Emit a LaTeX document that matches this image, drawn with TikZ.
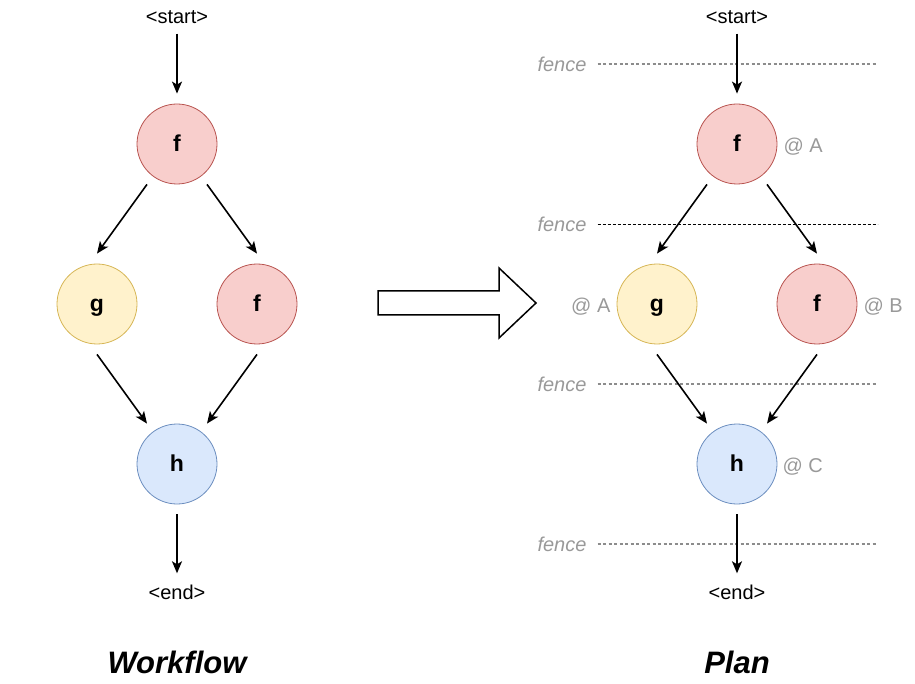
\documentclass[tikz,border=0pt]{standalone}
\usepackage{fontspec}
\setmainfont{Liberation Sans}
\usepackage{tikz}
\usetikzlibrary{arrows.meta, positioning, calc}
\definecolor{redfill}{HTML}{F8CECC}
\definecolor{redline}{HTML}{B85450}
\definecolor{yellowfill}{HTML}{FFF2CC}
\definecolor{yellowline}{HTML}{D6B656}
\definecolor{bluefill}{HTML}{DAE8FC}
\definecolor{blueline}{HTML}{6C8EBF}
\definecolor{fencegray}{HTML}{999999}
\definecolor{fenceline}{HTML}{8C8C8C}
\tikzstyle{task} = [circle, draw, line width=0.8pt, minimum size=80pt, inner sep=0pt, text height=15.5pt, text depth=0pt, font=\fontsize{23}{28}\selectfont\bfseries]
\tikzstyle{ftask} = [task, fill=redfill, draw=redline]
\tikzstyle{gtask} = [task, fill=yellowfill, draw=yellowline]
\tikzstyle{htask} = [task, fill=bluefill, draw=blueline]
\tikzstyle{inout} = [inner sep=0pt, text height=15pt, text depth=0pt, font=\fontsize{20}{24}\selectfont]
\tikzstyle{place} = [inout, text=fencegray]
\tikzstyle{fencelabel} = [place, font=\fontsize{20}{24}\selectfont\itshape]
\tikzstyle{title} = [inner sep=0pt, anchor=base, font=\fontsize{31}{36}\selectfont\bfseries\itshape]
\tikzstyle{arrow} = [-{Stealth[length=12pt, width=10pt, inset=3pt]}, line width=1.6pt]
\tikzstyle{fence} = [line width=1.5pt, fenceline, dash pattern=on 3pt off 2.5pt]
\tikzstyle{thinfence} = [line width=0.8pt, black, dash pattern=on 3pt off 2pt]

\begin{document}
\begin{tikzpicture}[x=1pt, y=-1pt]
        \useasboundingbox (0,0) rectangle (915,684);

        % Workflow
        \node[inout] (w_start) at (177,16) {<start>};
        \node[ftask] (w_f1) at (177,144) {f};
        \node[gtask] (w_g) at (97,304) {g};
        \node[ftask] (w_f2) at (257,304) {f};
        \node[htask] (w_h) at (177,464) {h};
        \node[inout] (w_end) at (177,592) {<end>};
        \node[title] (w_title) at (177,673) {Workflow};

        \draw[arrow] ($(w_start.south)+(0,10)$) -- ($(w_f1.north)+(0,-10)$);
        \draw[arrow] ($(w_f1.south)+(-30,0)$) -- ($(w_g.north)+(0,-10)$);
        \draw[arrow] ($(w_f1.south)+(30,0)$) -- ($(w_f2.north)+(0,-10)$);
        \draw[arrow] ($(w_g.south)+(0,10)$) -- ($(w_h.north)+(-30,0)$);
        \draw[arrow] ($(w_f2.south)+(0,10)$) -- ($(w_h.north)+(30,0)$);
        \draw[arrow] ($(w_h.south)+(0,10)$) -- ($(w_end.north)+(0,-11)$);

        % Big arrow
        \draw[line width=1.5pt, line join=miter] (378,291) -- (499,291) -- (499,268) -- (536,303) -- (499,338) -- (499,315) -- (378,315) -- cycle;

        % Fences
        \node[fencelabel] (fence1) at (562,64) {fence};
        \node[fencelabel] (fence2) at (562,224) {fence};
        \node[fencelabel] (fence3) at (562,384) {fence};
        \node[fencelabel] (fence4) at (562,544) {fence};
        \draw[fence] ($(fence1.east)+(11,0)$) -- ++(280,0);
        \draw[thinfence] ($(fence2.east)+(11,0)$) -- ++(280,0);
        \draw[fence] ($(fence3.east)+(11,0)$) -- ++(280,0);
        \draw[fence] ($(fence4.east)+(11,0)$) -- ++(280,0);

        % Plan
        \node[inout] (p_start) at (737,16) {<start>};
        \node[ftask] (p_f1) at (737,144) {f};
        \node[gtask] (p_g) at (657,304) {g};
        \node[ftask] (p_f2) at (817,304) {f};
        \node[htask] (p_h) at (737,464) {h};
        \node[inout] (p_end) at (737,592) {<end>};
        \node[title] (p_title) at (737,673) {Plan};

        \node[place, right=6pt of p_f1, yshift=-1pt] (at_f1) {@ A};
        \node[place, left=6pt of p_g, yshift=-1pt] (at_g) {@ A};
        \node[place, right=6pt of p_f2, yshift=-1pt] (at_f2) {@ B};
        \node[place, right=5pt of p_h, yshift=-1pt] (at_h) {@ C};

        \draw[arrow] ($(p_start.south)+(0,10)$) -- ($(p_f1.north)+(0,-10)$);
        \draw[arrow] ($(p_f1.south)+(-30,0)$) -- ($(p_g.north)+(0,-10)$);
        \draw[arrow] ($(p_f1.south)+(30,0)$) -- ($(p_f2.north)+(0,-10)$);
        \draw[arrow] ($(p_g.south)+(0,10)$) -- ($(p_h.north)+(-30,0)$);
        \draw[arrow] ($(p_f2.south)+(0,10)$) -- ($(p_h.north)+(30,0)$);
        \draw[arrow] ($(p_h.south)+(0,10)$) -- ($(p_end.north)+(0,-11)$);
    \end{tikzpicture}
\end{document}
